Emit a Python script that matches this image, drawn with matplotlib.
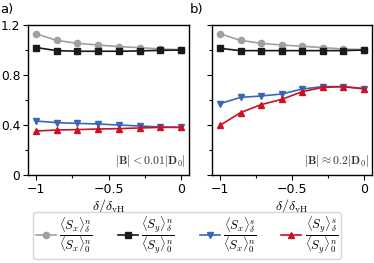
import matplotlib
matplotlib.use('Agg')
import matplotlib.pyplot as plt
from matplotlib.ticker import MultipleLocator

plt.rcParams['mathtext.fontset'] = 'cm'
plt.rcParams['font.size'] = 9

x = [-1.0, -0.857, -0.714, -0.571, -0.429, -0.286, -0.143, 0.0]

# panel a: |B| < 0.01|D0|
a_sx_n = [1.13, 1.077, 1.053, 1.04, 1.027, 1.019, 1.008, 1.003]
a_sy_n = [1.02, 0.995, 0.99, 0.99, 0.99, 0.993, 0.997, 1.0]
a_sx_s = [0.432, 0.419, 0.413, 0.408, 0.40, 0.392, 0.384, 0.381]
a_sy_s = [0.352, 0.36, 0.363, 0.368, 0.371, 0.376, 0.381, 0.381]

# panel b: |B| ~ 0.2|D0|
b_sx_n = [1.13, 1.077, 1.053, 1.04, 1.03, 1.019, 1.008, 1.003]
b_sy_n = [1.013, 0.995, 0.995, 0.995, 0.995, 0.995, 0.995, 1.0]
b_sx_s = [0.571, 0.621, 0.632, 0.648, 0.688, 0.707, 0.707, 0.688]
b_sy_s = [0.397, 0.499, 0.563, 0.605, 0.667, 0.701, 0.707, 0.691]

labels = [r'$\dfrac{\langle S_x\rangle^n_\delta}{\langle S_x\rangle^n_0}$',
          r'$\dfrac{\langle S_y\rangle^n_\delta}{\langle S_y\rangle^n_0}$',
          r'$\dfrac{\langle S_x\rangle^s_\delta}{\langle S_x\rangle^n_0}$',
          r'$\dfrac{\langle S_y\rangle^s_\delta}{\langle S_y\rangle^n_0}$']
colors = ['#a0a0a0', '#1a1a1a', '#3a66b8', '#cc1122']
markers = ['o', 's', 'v', '^']

fig = plt.figure(figsize=(3.74, 2.63), dpi=100)
ax1 = fig.add_axes([28/374, 1-175/263, 161/374, 150/263])
ax2 = fig.add_axes([212/374, 1-175/263, 160/374, 150/263])

panels = [(ax1, [a_sx_n, a_sy_n, a_sx_s, a_sy_s], r'$|\mathbf{B}| < 0.01|\mathbf{D}_0|$'),
          (ax2, [b_sx_n, b_sy_n, b_sx_s, b_sy_s], r'$|\mathbf{B}| \approx 0.2|\mathbf{D}_0|$')]
handles = []
for ax, series, note in panels:
    hs = []
    for y, c, m, lab in zip(series, colors, markers, labels):
        h, = ax.plot(x, y, color=c, marker=m, ms=4.5, lw=1.2, label=lab)
        hs.append(h)
    handles = hs
    ax.set_xlim(-1.055, 0.055)
    ax.set_ylim(0, 1.2)
    ax.xaxis.set_major_locator(MultipleLocator(0.5))
    ax.xaxis.set_minor_locator(MultipleLocator(0.25))
    ax.yaxis.set_major_locator(MultipleLocator(0.4))
    ax.yaxis.set_minor_locator(MultipleLocator(0.2))
    ax.set_xticks([-1, -0.5, 0])
    ax.set_xticklabels(['\u22121', '\u22120.5', '0'])
    ax.tick_params(which='both', direction='out', length=3.5, width=0.8, pad=2)
    ax.tick_params(which='minor', length=2.5)
    ax.set_xlabel(r'$\delta/\delta_{\rm vH}$', fontsize=10, labelpad=1)
    ax.text(0.98, 0.04, note, transform=ax.transAxes, ha='right', va='bottom',
            fontsize=8.5, color='#333333')
    for s in ax.spines.values():
        s.set_linewidth(1.0)

ax1.set_yticks([0, 0.4, 0.8, 1.2])
ax1.set_yticklabels(['0', '0.4', '0.8', '1.2'], fontsize=8.8)
ax2.set_yticklabels([])

fig.text(0.0, 1-10/263, 'a)', fontsize=9.5, va='center')
fig.text(190/374, 1-10/263, 'b)', fontsize=9.5, va='center')

fig.legend(handles=handles, loc='lower center', bbox_to_anchor=(0.5, -0.01), ncol=4,
           fontsize=9, handlelength=1.6, handletextpad=0.25, columnspacing=2.0,
           borderpad=0.25, frameon=True, edgecolor='#cccccc')

fig.savefig('out.png', dpi=100)
